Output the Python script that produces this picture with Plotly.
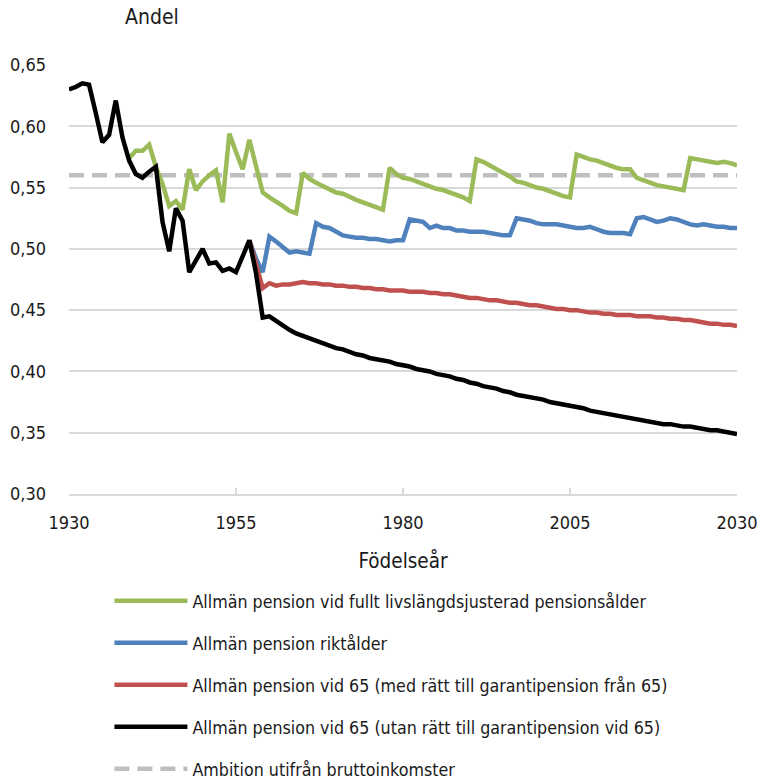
import plotly.graph_objects as go

years_all = list(range(1930, 2031))

# Svart: Allmän pension vid 65 (utan rätt till garantipension vid 65), 1930-2030
black_vals = [
    0.630, 0.632, 0.635, 0.634, 0.611, 0.587, 0.593, 0.621, 0.591, 0.572,  # 1930-1939
    0.561, 0.558, 0.563, 0.567, 0.522, 0.498, 0.533, 0.523, 0.481, 0.491,  # 1940-1949
    0.500, 0.488, 0.489, 0.482, 0.484, 0.481, 0.495, 0.507, 0.480, 0.444,  # 1950-1959
    0.445, 0.441, 0.437, 0.434, 0.431, 0.429, 0.427, 0.425, 0.423, 0.421,  # 1960-1969
    0.419, 0.418, 0.416, 0.414, 0.413, 0.411, 0.410, 0.409, 0.408, 0.406,  # 1970-1979
    0.405, 0.404, 0.402, 0.401, 0.400, 0.398, 0.397, 0.396, 0.394, 0.393,  # 1980-1989
    0.391, 0.390, 0.388, 0.387, 0.386, 0.384, 0.383, 0.381, 0.380, 0.379,  # 1990-1999
    0.378, 0.377, 0.375, 0.374, 0.373, 0.372, 0.371, 0.370, 0.368, 0.367,  # 2000-2009
    0.366, 0.365, 0.364, 0.363, 0.362, 0.361, 0.360, 0.359, 0.358, 0.357,  # 2010-2019
    0.357, 0.356, 0.355, 0.355, 0.354, 0.353, 0.352, 0.352, 0.351, 0.350,  # 2020-2029
    0.349,                                                                 # 2030
]

# Grön: Allmän pension vid fullt livslängdsjusterad pensionsålder, 1939-2030
green_years = list(range(1939, 2031))
green_vals = [
    0.574,                                                                 # 1939
    0.580, 0.580, 0.585, 0.567, 0.553, 0.535, 0.539, 0.532, 0.565, 0.548,  # 1940-1949
    0.555, 0.560, 0.564, 0.538, 0.594, 0.579, 0.565, 0.589, 0.566, 0.546,  # 1950-1959
    0.542, 0.539, 0.535, 0.531, 0.529, 0.562, 0.557, 0.554, 0.551, 0.549,  # 1960-1969
    0.546, 0.545, 0.542, 0.540, 0.538, 0.536, 0.534, 0.532, 0.566, 0.561,  # 1970-1979
    0.558, 0.557, 0.555, 0.553, 0.551, 0.549, 0.548, 0.546, 0.544, 0.542,  # 1980-1989
    0.539, 0.573, 0.571, 0.568, 0.566, 0.563, 0.559, 0.555, 0.554, 0.552,  # 1990-1999
    0.550, 0.549, 0.547, 0.545, 0.543, 0.542, 0.577, 0.575, 0.573, 0.572,  # 2000-2009
    0.570, 0.568, 0.566, 0.565, 0.565, 0.558, 0.556, 0.554, 0.552, 0.551,  # 2010-2019
    0.550, 0.549, 0.548, 0.574, 0.573, 0.572, 0.571, 0.570, 0.571, 0.570,  # 2020-2029
    0.568,                                                                 # 2030
]

# Blå: Allmän pension riktålder, 1957-2030
blue_years = list(range(1957, 2031))
blue_vals = [
    0.507, 0.492, 0.481,                                                   # 1957-1959
    0.510, 0.506, 0.502, 0.497, 0.498, 0.497, 0.496, 0.521, 0.518, 0.517,  # 1960-1969
    0.514, 0.511, 0.510, 0.509, 0.509, 0.508, 0.508, 0.507, 0.506, 0.507,  # 1970-1979
    0.507, 0.524, 0.523, 0.522, 0.517, 0.519, 0.517, 0.517, 0.515, 0.515,  # 1980-1989
    0.514, 0.514, 0.514, 0.513, 0.512, 0.511, 0.511, 0.525, 0.524, 0.523,  # 1990-1999
    0.521, 0.520, 0.520, 0.520, 0.519, 0.518, 0.517, 0.517, 0.518, 0.516,  # 2000-2009
    0.514, 0.513, 0.513, 0.513, 0.512, 0.525, 0.526, 0.524, 0.522, 0.523,  # 2010-2019
    0.525, 0.524, 0.522, 0.520, 0.519, 0.520, 0.519, 0.518, 0.518, 0.517,  # 2020-2029
    0.517,                                                                 # 2030
]

# Röd: Allmän pension vid 65 (med rätt till garantipension från 65), 1957-2030
red_years = list(range(1957, 2031))
red_vals = [
    0.507, 0.488, 0.468,                                                   # 1957-1959
    0.472, 0.470, 0.471, 0.471, 0.472, 0.473, 0.472, 0.472, 0.471, 0.471,  # 1960-1969
    0.470, 0.470, 0.469, 0.469, 0.468, 0.468, 0.467, 0.467, 0.466, 0.466,  # 1970-1979
    0.466, 0.465, 0.465, 0.465, 0.464, 0.464, 0.463, 0.463, 0.462, 0.461,  # 1980-1989
    0.460, 0.460, 0.459, 0.458, 0.458, 0.457, 0.456, 0.456, 0.455, 0.454,  # 1990-1999
    0.454, 0.453, 0.452, 0.451, 0.451, 0.450, 0.450, 0.449, 0.448, 0.448,  # 2000-2009
    0.447, 0.447, 0.446, 0.446, 0.446, 0.445, 0.445, 0.445, 0.444, 0.444,  # 2010-2019
    0.443, 0.443, 0.442, 0.442, 0.441, 0.440, 0.439, 0.439, 0.438, 0.438,  # 2020-2029
    0.437,                                                                 # 2030
]

# Grå streckad: Ambition utifrån bruttoinkomster
ambition_years = [1930, 2030]
ambition_vals = [0.56, 0.56]

x_ticks = [1930, 1955, 1980, 2005, 2030]
y_ticks = [0.30, 0.35, 0.40, 0.45, 0.50, 0.55, 0.60, 0.65]
y_ticktext = ["0,30", "0,35", "0,40", "0,45", "0,50", "0,55", "0,60", "0,65"]

FONT = "DejaVu Sans Condensed, DejaVu Sans, sans-serif"
FS = 18
TXT = "#1a1a1a"
LW = 4.5

fig = go.Figure()
# draw order: ambition first (behind), then green, blue, red, black on top
fig.add_trace(go.Scatter(x=ambition_years, y=ambition_vals, mode="lines",
                         name="Ambition utifrån bruttoinkomster",
                         line=dict(color="#BFBFBF", width=LW, dash="15px,8px"),
                         legendrank=5, legendgroup="e"))
fig.add_trace(go.Scatter(x=green_years, y=green_vals, mode="lines",
                         name="Allmän pension vid fullt livslängdsjusterad pensionsålder",
                         line=dict(color="#9BBB59", width=LW), legendrank=1, legendgroup="a"))
fig.add_trace(go.Scatter(x=blue_years, y=blue_vals, mode="lines",
                         name="Allmän pension riktålder",
                         line=dict(color="#4F81BD", width=LW), legendrank=2, legendgroup="b"))
fig.add_trace(go.Scatter(x=red_years, y=red_vals, mode="lines",
                         name="Allmän pension vid 65 (med rätt till garantipension från 65)",
                         line=dict(color="#C0504D", width=LW), legendrank=3, legendgroup="c"))
fig.add_trace(go.Scatter(x=years_all, y=black_vals, mode="lines",
                         name="Allmän pension vid 65 (utan rätt till garantipension vid 65)",
                         line=dict(color="#000000", width=LW), legendrank=4, legendgroup="d"))

fig.update_layout(
    width=759, height=779,
    margin=dict(l=69, r=22, t=65, b=285, autoexpand=False),
    paper_bgcolor="white", plot_bgcolor="white",
    font=dict(family=FONT, size=FS, color=TXT),
    showlegend=True,
    legend=dict(orientation="v", x=0.0605, xanchor="left", y=-0.207, yanchor="top",
                traceorder="grouped", tracegroupgap=16, itemwidth=73,
                font=dict(family=FONT, size=17.7, color=TXT),
                bgcolor="rgba(0,0,0,0)"),
    xaxis=dict(range=[1930, 2030], tickvals=x_ticks, showgrid=False,
               showline=True, linecolor="#D9D9D9", linewidth=2,
               ticks="inside", ticklen=6, tickcolor="#D9D9D9", tickwidth=2,
               ticklabelstandoff=11, ticklabeloverflow="allow", automargin=False,
               title=dict(text="Födelseår", standoff=22, font=dict(size=20.5)),
               zeroline=False),
    yaxis=dict(range=[0.30, 0.65], tickvals=y_ticks, ticktext=y_ticktext,
               showgrid=True, gridcolor="#D9D9D9", gridwidth=2, automargin=False,
               showline=False, zeroline=False, ticks="", ticklabelstandoff=22),
    annotations=[dict(text="Andel", xref="paper", yref="paper", x=0.124, y=1.0,
                      xanchor="center", yanchor="middle", yshift=48, showarrow=False,
                      font=dict(family=FONT, size=21, color=TXT))],
)

# remove the default page margin so the 759x779 figure fills the window exactly
fig.write_html("out.html", config={"displayModeBar": False},
               post_script="document.body.style.margin='0px';")
